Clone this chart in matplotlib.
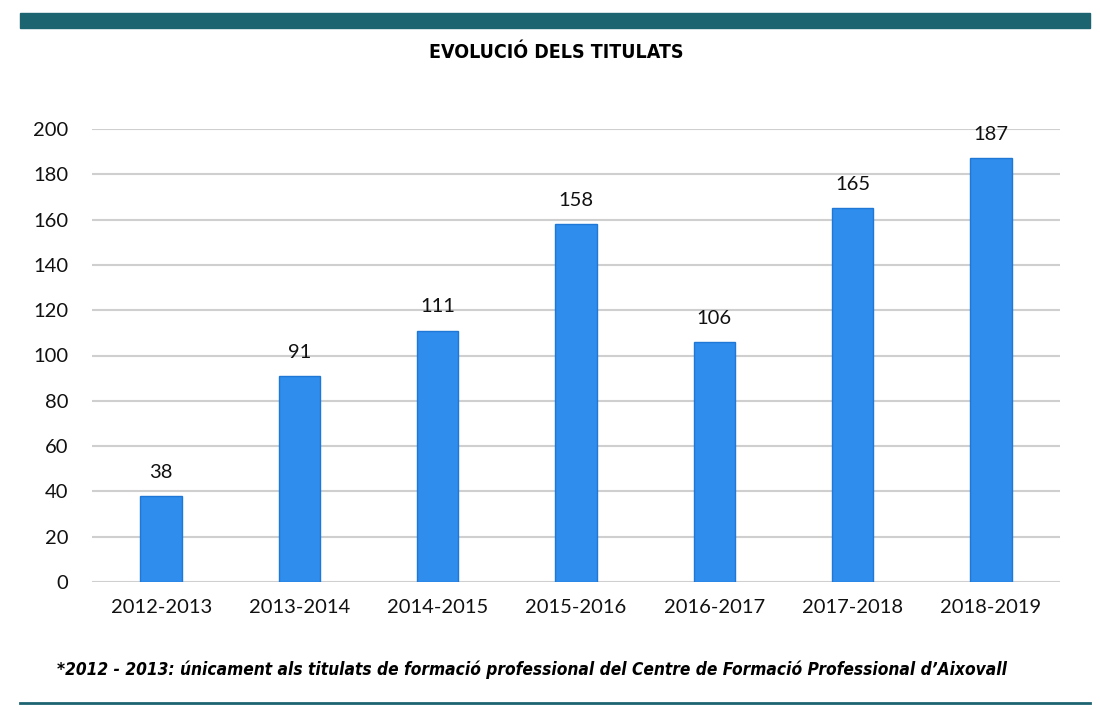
import matplotlib
matplotlib.use("Agg")
import matplotlib.pyplot as plt
from matplotlib.patches import Rectangle
from matplotlib.lines import Line2D

categories = ["2012-2013", "2013-2014", "2014-2015", "2015-2016", "2016-2017", "2017-2018", "2018-2019"]
values = [38, 91, 111, 158, 106, 165, 187]
yticks = [0, 20, 40, 60, 80, 100, 120, 140, 160, 180, 200]

title = "EVOLUCIÓ DELS TITULATS"
footnote = "*2012 - 2013: únicament als titulats de formació professional del Centre de Formació Professional d\u2019Aixovall"

fig = plt.figure(figsize=(11, 7.1), dpi=100)
W, H = 1100, 710
ax = fig.add_axes([92 / W, 1 - 582 / H, (1060 - 92) / W, (582 - 129) / H])

x = range(len(categories))
ax.bar(x, values, width=0.30, color="#2f8ded", edgecolor="#1f78d6", linewidth=1.0, zorder=3)
for xi, v in zip(x, values):
    ax.annotate(str(v), (xi, v), xytext=(0, 11), textcoords="offset points",
                ha="center", va="bottom", fontsize=14.5, color="#111111", family="Lato")

ax.set_xlim(-0.5, len(categories) - 0.5)
ax.set_ylim(0, 200)
ax.set_yticks(yticks)
ax.set_xticks(list(x))
ax.set_xticklabels(categories)
ax.yaxis.grid(True, color="#cfcfcf", linewidth=1.5, zorder=0)
ax.set_axisbelow(True)
for s in ax.spines.values():
    s.set_visible(False)
ax.tick_params(axis="both", length=0, labelsize=14.5, labelcolor="#111111")
ax.tick_params(axis="y", pad=17)
ax.tick_params(axis="x", pad=12)
for lab in ax.get_xticklabels() + ax.get_yticklabels():
    lab.set_family("Lato")

# top bar
fig.patches.append(Rectangle((20 / W, 1 - 28 / H), 1070 / W, 15 / H, transform=fig.transFigure,
                             color="#1d6471", zorder=5))
# bottom line
fig.lines.append(Line2D([20 / W, 1090 / W], [1 - 703 / H, 1 - 703 / H], transform=fig.transFigure,
                        color="#1d6471", linewidth=2))

fig.text(556 / W, 1 - 53 / H, title, ha="center", va="center", fontsize=14, fontweight="bold",
         family="DejaVu Sans", fontstretch="condensed", color="#000000")
fig.text(57 / W, 1 - 670 / H, footnote, ha="left", va="center", fontsize=12.45, fontweight="bold",
         fontstyle="italic", family="DejaVu Sans", fontstretch="condensed", color="#000000")

fig.savefig("out.png", dpi=100)
